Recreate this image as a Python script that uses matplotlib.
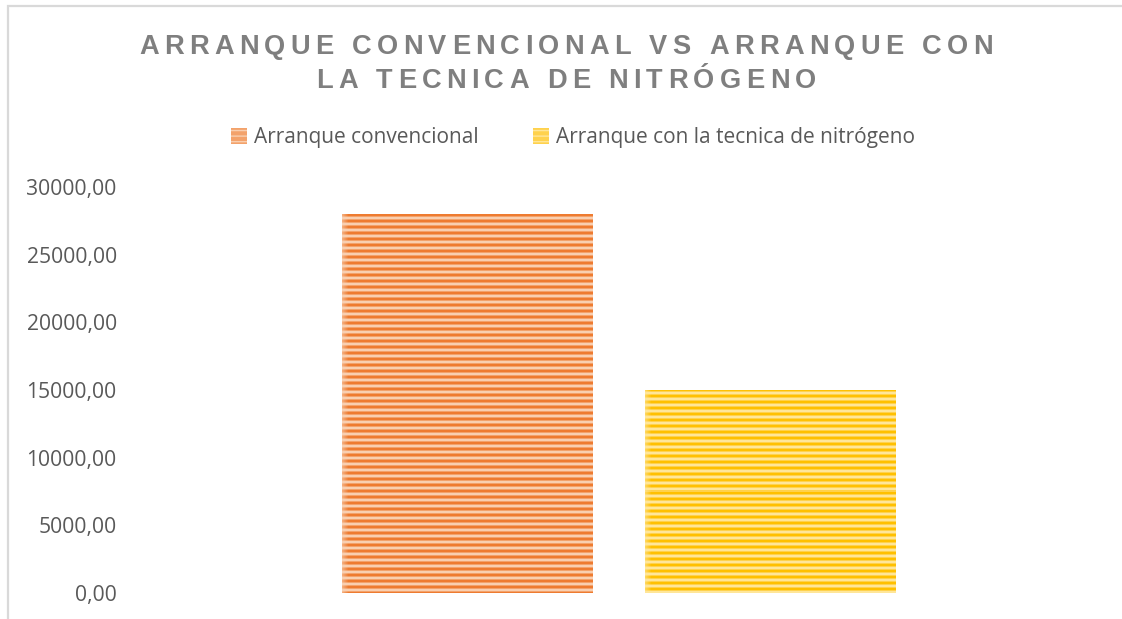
import numpy as np
import matplotlib
matplotlib.use("Agg")
import matplotlib.pyplot as plt
from matplotlib.patches import Patch, Rectangle
from matplotlib.ticker import FuncFormatter, MultipleLocator
from matplotlib.font_manager import FontProperties, findfont
from matplotlib.ft2font import LOAD_NO_HINTING
from matplotlib import font_manager

# ---- data ----
series_names = ["Arranque convencional", "Arranque con la tecnica de nitrógeno"]
series_values = [28000.0, 15000.0]
title_lines = ["ARRANQUE CONVENCIONAL VS ARRANQUE CON", "LA TECNICA DE NITRÓGENO"]

# ---- style ----
W, H, DPI = 1122, 619, 100
dark_cols = ["#EE7B30", "#FFC000"]
light_cols = ["#F9CFB0", "#FFE699"]
mid_cols = ["#F3A26B", "#FFD24D"]
tick_color = "#595959"
title_color = "#7F7F7F"
border_color = "#D9D9D9"
font_main = "Open Sans"

fig = plt.figure(figsize=(W / DPI, H / DPI), dpi=DPI)
fig.patch.set_facecolor("white")

# chart-area frame (only top and left edges fall inside the canvas)
fig.patches.append(Rectangle((7.5 / W, -0.05), 1.2, (1 - 5.5 / H) + 0.05,
                             transform=fig.transFigure, fill=False,
                             edgecolor=border_color, linewidth=1.6))

ax = fig.add_axes([130 / W, 26 / H, (1108 - 130) / W, (593 - 187) / H])
ax.set_xlim(-0.5, 0.5)
ax.set_ylim(0, 30000)
for s in ax.spines.values():
    s.set_visible(False)
ax.set_xticks([])
ax.yaxis.set_major_locator(MultipleLocator(5000))
ax.yaxis.set_major_formatter(FuncFormatter(lambda v, p: f"{v:.2f}".replace(".", ",")))
ax.tick_params(axis="y", length=0, pad=9.5, labelcolor=tick_color, labelsize=15.2)
for lab in ax.get_yticklabels():
    lab.set_fontfamily(font_main)

bar_width = 0.256
offsets = [-0.155, 0.155]
bars = []
for i, (name, val) in enumerate(zip(series_names, series_values)):
    b = ax.bar(offsets[i], val, width=bar_width, color=mid_cols[i],
               edgecolor="none", label=name)
    bars.append(b[0])

# horizontal stripe fill, drawn per bar and clipped to it
fig.canvas.draw()
for i, rect in enumerate(bars):
    x0, y0 = rect.get_x(), rect.get_y()
    w, h = rect.get_width(), rect.get_height()
    p0 = ax.transData.transform((x0, y0))
    p1 = ax.transData.transform((x0 + w, y0 + h))
    npx_h = int(round(p1[1] - p0[1]))
    npx_w = int(round(p1[0] - p0[0]))
    d = np.array(matplotlib.colors.to_rgb(dark_cols[i]))
    l = np.array(matplotlib.colors.to_rgb(light_cols[i]))
    m = np.array(matplotlib.colors.to_rgb(mid_cols[i]))
    pattern = [d, d, m, l, l, m]
    rows = np.array([pattern[r % len(pattern)] for r in range(npx_h)])
    img = np.repeat(rows[:, None, :], npx_w, axis=1)
    # soft left edge
    fade = np.clip(np.arange(npx_w) / 6.0, 0, 1)[None, :, None]
    img = img * fade + l[None, None, :] * (1 - fade) * 0.6 + img * (1 - fade) * 0.4
    im = ax.imshow(img, extent=(x0, x0 + w, y0, y0 + h), aspect="auto",
                   interpolation="nearest", origin="upper", zorder=3)
    im.set_clip_path(rect)
ax.set_xlim(-0.5, 0.5)
ax.set_ylim(0, 30000)

# legend
plt.rcParams["hatch.linewidth"] = 1.0
handles = [Patch(facecolor=mid_cols[i], edgecolor=light_cols[i], hatch="---",
                 linewidth=0, label=series_names[i]) for i in range(2)]
leg = fig.legend(handles=handles, loc="center", ncol=2,
                 bbox_to_anchor=(573 / W, 1 - 137.5 / H), frameon=False,
                 prop=FontProperties(family=font_main, size=15.0),
                 handlelength=0.75, handleheight=0.8, handletextpad=0.35,
                 columnspacing=2.6, borderaxespad=0)
for t in leg.get_texts():
    t.set_color(tick_color)

# title with tracked (letter-spaced) capitals
title_prop = FontProperties(family="Liberation Sans", weight="bold", size=19.6)
ft = font_manager.get_font(findfont(title_prop))
ft.set_size(title_prop.get_size_in_points(), DPI)
tracking = 5.3  # px between glyphs
center_x = 566
baselines = [54.5, 88]
for line, base in zip(title_lines, baselines):
    advs = []
    for ch in line:
        g = ft.load_char(ord(ch), flags=LOAD_NO_HINTING)
        advs.append(g.linearHoriAdvance / 65536)
    total = sum(advs) + tracking * (len(line) - 1)
    x = center_x - total / 2
    for ch, a in zip(line, advs):
        fig.text(x / W, 1 - base / H, ch, fontproperties=title_prop,
                 color=title_color, ha="left", va="baseline")
        x += a + tracking

fig.savefig("out.png", dpi=DPI, facecolor="white")
